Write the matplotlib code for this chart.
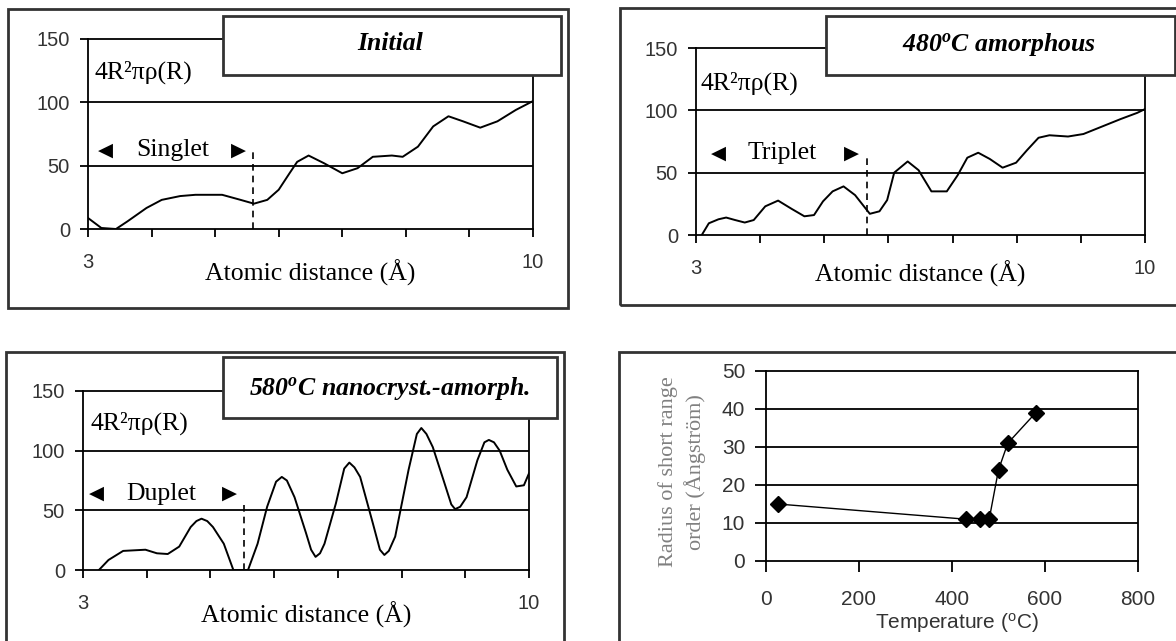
import matplotlib.pyplot as plt
from matplotlib.patches import Rectangle

# fonts: Times-like for labels, Arial-like for ticks
plt.rcParams['mathtext.fontset'] = 'custom'
plt.rcParams['mathtext.rm'] = 'Liberation Serif'
plt.rcParams['mathtext.it'] = 'Liberation Serif:italic:bold'
plt.rcParams['mathtext.sf'] = 'Liberation Sans'

SERIF = ['Liberation Serif', 'DejaVu Sans']
SANS = 'Liberation Sans'
FS_SERIF = 18.5
FS_TICK = 14.5

# ---- data ----
r_initial = [3.0, 3.21, 3.44, 3.62, 3.92, 4.16, 4.45, 4.69, 5.11, 5.4, 5.61, 5.82, 6.0, 6.17,
             6.29, 6.47, 6.71, 7.0, 7.24, 7.48, 7.78, 7.95, 8.19, 8.43, 8.67, 8.9, 9.17, 9.44,
             9.73, 10.0]
g_initial = [8.7, 0.8, 0, 6, 16.6, 23, 26, 27, 27, 23, 20, 23, 31, 44,
             53, 58, 52, 44, 48, 57, 58, 57, 65, 81, 89, 85, 80, 85,
             94, 101]

r_480 = [3.09, 3.2, 3.35, 3.47, 3.61, 3.76, 3.9, 4.08, 4.28, 4.49, 4.69, 4.84, 4.98, 5.13,
         5.3, 5.48, 5.71, 5.86, 5.98, 6.09, 6.3, 6.47, 6.67, 6.91, 7.08, 7.23, 7.4, 7.58,
         7.78, 7.99, 8.16, 8.34, 8.51, 8.8, 9.04, 9.33, 9.62, 9.88, 10.0]
g_480 = [0, 9.4, 12.6, 14, 12, 10, 12, 23, 27.6, 21, 15, 16, 27, 35,
         39, 32, 17, 19, 28, 50, 59, 52, 35, 35, 48, 62, 66, 61,
         54, 58, 68, 78, 80, 79, 81, 87, 93, 98, 101]

r_580 = [3.25, 3.4, 3.63, 3.98, 4.16, 4.33, 4.51, 4.69, 4.78, 4.86, 4.95, 5.04, 5.21, 5.36,
         5.59, 5.74, 5.89, 6.03, 6.12, 6.2, 6.32, 6.5, 6.58, 6.65, 6.72, 6.79, 6.97, 7.1,
         7.18, 7.26, 7.35, 7.55, 7.66, 7.73, 7.8, 7.9, 8.11, 8.24, 8.31, 8.39, 8.49, 8.66,
         8.78, 8.84, 8.92, 9.02, 9.19, 9.3, 9.37, 9.45, 9.54, 9.66, 9.8, 9.92, 10.0]
g_580 = [0, 8.4, 16, 17, 14, 13.4, 19.6, 36, 41, 43, 41, 36, 22, 0,
         0, 22, 53, 74, 78, 75, 61, 31, 17, 11, 14, 22, 56, 85,
         90, 86, 78, 39, 17, 12.6, 16, 28, 84, 114, 119, 114, 103, 75,
         55, 51, 53, 61, 92, 107, 109, 107, 100, 84, 70, 71, 81]

temperature = [25, 430, 460, 480, 500, 520, 580]
sro_radius = [15, 11, 11, 11, 24, 31, 39]

rdf_yticks = [0, 50, 100, 150]
rdf_xticks = [3, 4, 5, 6, 7, 8, 9, 10]
rdf_xticklabels = ['3', '', '', '', '', '', '', '10']
temp_ticks = [0, 200, 400, 600, 800]
radius_ticks = [0, 10, 20, 30, 40, 50]

W, H = 1176, 641
fig = plt.figure(figsize=(W / 100, H / 100), dpi=100)


def px_axes(l, t, r, b):
    return fig.add_axes([l / W, 1 - b / H, (r - l) / W, (b - t) / H])


def px_box(l, t, r, b, z=1, fill=False):
    rect = Rectangle((l / W, 1 - b / H), (r - l) / W, (b - t) / H,
                     transform=fig.transFigure, fill=fill, facecolor='white',
                     edgecolor='#333333', lw=2, zorder=z)
    fig.add_artist(rect)


def px_text(x, y, s, **kw):
    fig.text(x / W, 1 - y / H, s, **kw)


def rdf_panel(ax, r, g, peak_name, arr_l, name_x, arr_r, arr_y, dash_x, dash_top, lab_xy):
    ax.plot(r, g, color='black', lw=1.4)
    ax.set_xlim(3, 10)
    ax.set_ylim(0, 150)
    ax.set_yticks(rdf_yticks)
    ax.set_xticks(rdf_xticks)
    ax.set_xticklabels(rdf_xticklabels)
    for v in rdf_yticks[1:-1]:
        ax.axhline(v, color='black', lw=1.3)
    for s in ax.spines.values():
        s.set_linewidth(1.3)
    ax.tick_params(axis='y', direction='out', length=6, width=1.3, pad=7, labelsize=FS_TICK)
    ax.tick_params(axis='x', direction='out', length=6, width=1.3, pad=11, labelsize=FS_TICK)
    for lab in ax.get_xticklabels() + ax.get_yticklabels():
        lab.set_fontfamily(SANS)
        lab.set_color('#333333')
    ax.plot([dash_x, dash_x], [0, dash_top], color='black', lw=1.2, ls=(0, (4, 3)))
    ax.text(arr_l, arr_y, '\u25c0', fontsize=14, family='DejaVu Sans', ha='center', va='center')
    ax.text(arr_r, arr_y, '\u25b6', fontsize=14, family='DejaVu Sans', ha='center', va='center')
    ax.text(name_x, arr_y, peak_name, fontsize=FS_SERIF, family=SERIF, ha='center', va='center')
    ax.text(lab_xy[0], lab_xy[1], '4R\u00b2\u03c0\u03c1(R)', fontsize=FS_SERIF, family=SERIF,
            ha='left', va='center')


# outer frames
px_box(8, 9, 568, 308)
px_box(620, 8, 1190, 305)
px_box(6, 352, 564, 660)
px_box(619, 352, 1190, 660)

# Initial
ax1 = px_axes(88, 39, 533, 229)
rdf_panel(ax1, r_initial, g_initial, 'Singlet', 3.27, 4.33, 5.37, 62.6, 5.6, 63, (3.1, 124))
px_box(223, 16, 561, 75, z=5, fill=True)
px_text(390, 44, 'Initial', fontsize=FS_SERIF, family=SERIF, weight='bold', style='italic',
        ha='center', va='center', zorder=6)
px_text(310, 273, 'Atomic distance (\u00c5)', fontsize=FS_SERIF, family=SERIF, ha='center', va='center')

# 480 C amorphous
ax2 = px_axes(696, 48, 1145, 235)
rdf_panel(ax2, r_480, g_480, 'Triplet', 3.35, 4.34, 5.42, 65.6, 5.67, 63, (3.07, 122))
px_box(826, 16, 1175, 75, z=5, fill=True)
px_text(999, 44, r'480$^{o}$C amorphous', fontsize=FS_SERIF, family=SERIF, weight='bold',
        style='italic', ha='center', va='center', zorder=6)
px_text(920, 274, 'Atomic distance (\u00c5)', fontsize=FS_SERIF, family=SERIF, ha='center', va='center')

# 580 C nanocrystalline
ax3 = px_axes(83, 391, 529, 570)
rdf_panel(ax3, r_580, g_580, 'Duplet', 3.21, 4.23, 5.3, 64, 5.53, 59, (3.11, 123))
px_box(223, 357, 557, 418, z=5, fill=True)
px_text(389, 389, r'580$^{o}$C nanocryst.-amorph.', fontsize=FS_SERIF, family=SERIF, weight='bold',
        style='italic', ha='center', va='center', zorder=6)
px_text(306, 615, 'Atomic distance (\u00c5)', fontsize=FS_SERIF, family=SERIF, ha='center', va='center')

# short range order radius vs temperature
ax4 = px_axes(766, 371, 1138, 561)
ax4.plot(temperature, sro_radius, color='black', lw=1, marker='D', markersize=8, zorder=3)
ax4.set_xlim(0, 800)
ax4.set_ylim(0, 50)
ax4.set_xticks(temp_ticks)
ax4.set_yticks(radius_ticks)
for v in radius_ticks[1:-1]:
    ax4.axhline(v, color='black', lw=1.3)
for s in ax4.spines.values():
    s.set_linewidth(1.3)
ax4.tick_params(axis='y', direction='out', length=8, width=1.3, pad=7, labelsize=15)
ax4.tick_params(axis='x', direction='out', length=8, width=1.3, pad=13, labelsize=15)
for lab in ax4.get_xticklabels() + ax4.get_yticklabels():
    lab.set_fontfamily(SANS)
    lab.set_color('#333333')
px_text(682, 472, 'Radius of short range\norder (\u00c5ngstr\u00f6m)', fontsize=16, family=SERIF,
        color='#808080', rotation=90, ha='center', va='center', linespacing=1.4)
px_text(957, 622, r'Temperature ($^{\mathsf{o}}$C)', fontsize=15, family=SANS, color='#333333',
        ha='center', va='center')

fig.savefig('out.png', dpi=100)
